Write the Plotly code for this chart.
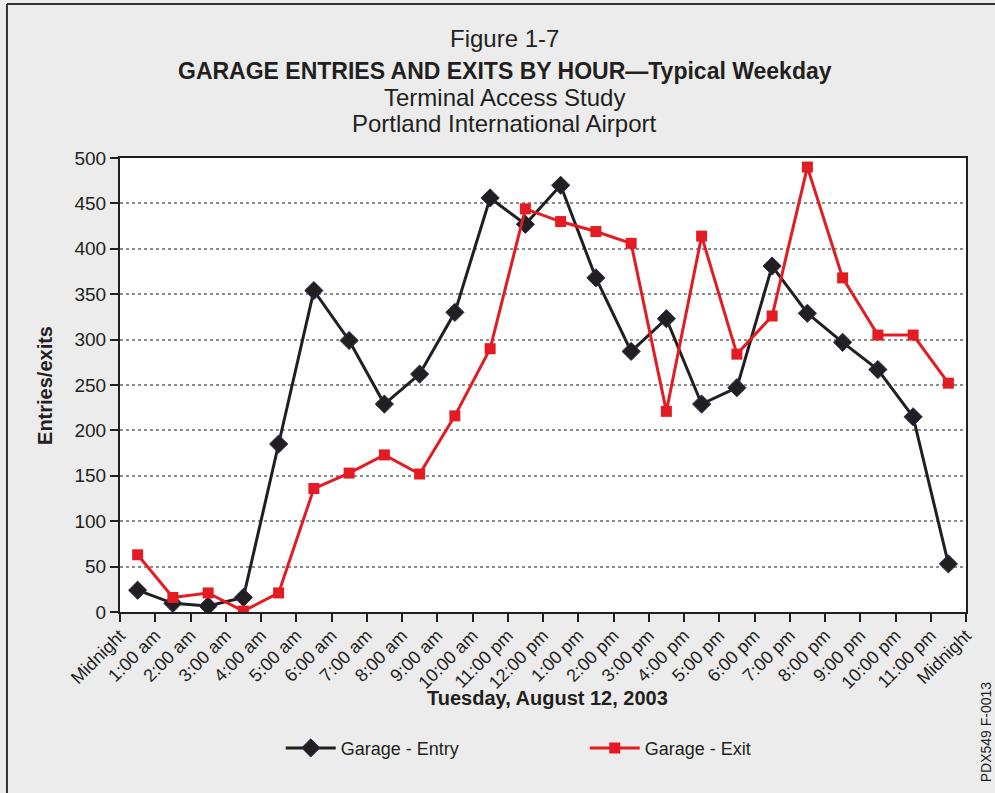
import plotly.graph_objects as go

# hour boundaries shown on the x axis (note the source labels 11 am as "11:00 pm")
tick_labels = ["Midnight", "1:00 am", "2:00 am", "3:00 am", "4:00 am", "5:00 am",
               "6:00 am", "7:00 am", "8:00 am", "9:00 am", "10:00 am", "11:00 pm",
               "12:00 pm", "1:00 pm", "2:00 pm", "3:00 pm", "4:00 pm", "5:00 pm",
               "6:00 pm", "7:00 pm", "8:00 pm", "9:00 pm", "10:00 pm", "11:00 pm",
               "Midnight"]
hours = list(range(24))
entry = [24, 9.5, 6.6, 16, 185, 354, 299, 229, 262, 330, 456, 427,
         470, 368, 287, 323, 229, 247, 381, 329, 297, 267, 215, 53]
exits = [63, 16, 21, 1, 21, 136, 153, 173, 152, 216, 290, 444,
         430, 419, 406, 221, 414, 284, 326, 490, 368, 305, 305, 252]

# each value sits in the middle of its hour
x_mid = [h + 0.5 for h in hours]

INK = "#231f20"
RED = "#e31b23"
BG = "#ebeceb"
FONT = "Liberation Sans, Arial, sans-serif"

fig = go.Figure()
fig.add_trace(go.Scatter(
    x=x_mid, y=entry, name="Garage - Entry", mode="lines+markers",
    line=dict(color=INK, width=3),
    marker=dict(symbol="diamond", size=14, color=INK,
                line=dict(color="#2b2d5c", width=1)),
))
fig.add_trace(go.Scatter(
    x=x_mid, y=exits, name="Garage - Exit", mode="lines+markers",
    line=dict(color=RED, width=3),
    marker=dict(symbol="square", size=11, color=RED),
))

fig.update_xaxes(
    range=[0, 24], tickvals=list(range(25)), ticktext=tick_labels,
    tickangle=-45, ticks="outside", ticklen=8, tickwidth=2, tickcolor=INK,
    ticklabelstandoff=-4,
    showline=True, linecolor=INK, linewidth=2, mirror=True,
    showgrid=False, zeroline=False,
    tickfont=dict(size=18, color=INK, family=FONT),
)
fig.update_yaxes(
    range=[0, 500], dtick=50, ticks="outside", ticklen=8, tickwidth=2,
    tickcolor=INK, showline=True, linecolor=INK, linewidth=2, mirror=True,
    showgrid=True, gridcolor="#8c8c8c", griddash="dot", gridwidth=1.5,
    zeroline=False, tickfont=dict(size=19, color=INK, family=FONT),
)

title_x = 0.455
notes = [
    ("Figure 1-7", 1.2643, 24),
    ("<b>GARAGE ENTRIES AND EXITS BY HOUR—Typical Weekday</b>", 1.1916, 23),
    ("Terminal Access Study", 1.1322, 24),
    ("Portland International Airport", 1.0749, 24),
]
for text, yy, sz in notes:
    fig.add_annotation(text=text, x=title_x, y=yy, xref="paper", yref="paper",
                       xanchor="center", yanchor="middle", showarrow=False,
                       font=dict(size=sz, color=INK, family=FONT))

fig.add_annotation(text="<b>Entries/exits</b>", x=-0.0887, y=0.5, xref="paper",
                   yref="paper", xanchor="center", yanchor="middle",
                   textangle=-90, showarrow=False,
                   font=dict(size=20, color=INK, family=FONT))
fig.add_annotation(text="<b>Tuesday, August 12, 2003</b>", x=0.505, y=-0.189,
                   xref="paper", yref="paper", xanchor="center", yanchor="middle",
                   showarrow=False, font=dict(size=20, color=INK, family=FONT))
fig.add_annotation(text="PDX549 F-0013", x=1.0, y=-0.265, xref="paper",
                   yref="paper", xanchor="center", yanchor="middle",
                   textangle=-90, showarrow=False, xshift=20,
                   font=dict(size=14, color=INK, family=FONT))

# frame lines of the page (left and top edges)
fig.add_shape(type="line", xref="paper", yref="paper", x0=-0.1336, x1=-0.1336,
              y0=-0.5, y1=1.339, line=dict(color="#333333", width=2))
fig.add_shape(type="line", xref="paper", yref="paper", x0=-0.1336, x1=1.2,
              y0=1.339, y1=1.339, line=dict(color="#333333", width=2))

fig.update_layout(
    width=995, height=793,
    margin=dict(l=120, r=29, t=158, b=181),
    paper_bgcolor=BG, plot_bgcolor="white",
    font=dict(family=FONT, color=INK),
    legend=dict(orientation="h", x=0.19, y=-0.3, xanchor="left", yanchor="middle",
                font=dict(size=18, color=INK, family=FONT),
                itemwidth=50, entrywidth=239, bgcolor="rgba(0,0,0,0)"),
)

fig.write_html("out.html", config={"displayModeBar": False},
               post_script="document.body.style.margin='0';"
                           "document.body.style.overflow='hidden';")
